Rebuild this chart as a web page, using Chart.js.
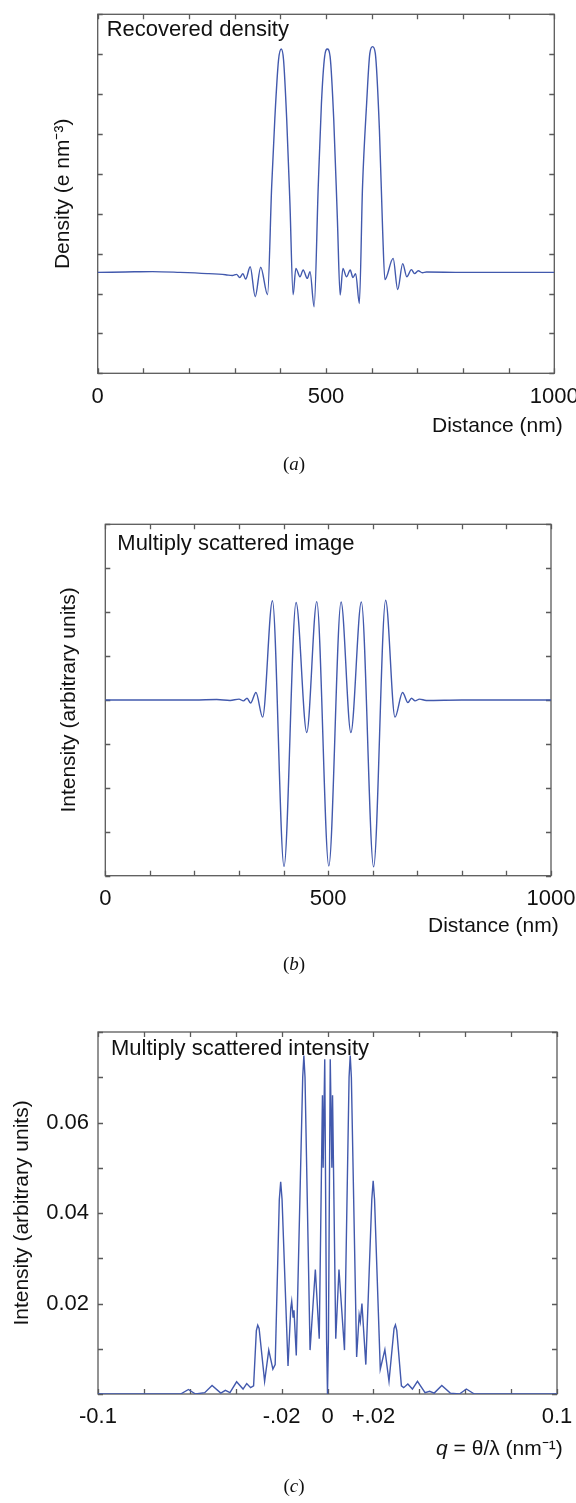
<!DOCTYPE html>
<html>
<head>
<meta charset="utf-8">
<script src="https://cdn.jsdelivr.net/npm/chart.js@4.4.1/dist/chart.umd.min.js"></script>
<style>
  html, body { margin: 0; padding: 0; background: #fff; }
  #page { position: relative; width: 576px; height: 1503px; overflow: hidden; }
  canvas { position: absolute; left: 0; }
</style>
</head>
<body>
<div id="page">
  <canvas id="density" width="576" height="490" style="top:0"></canvas>
  <canvas id="image" width="576" height="510" style="top:490px"></canvas>
  <canvas id="intensity" width="576" height="503" style="top:1000px"></canvas>
</div>
<script>
// (a) recovered density
const distanceA = [0, 60, 120, 180, 240, 280, 295, 304, 311, 318, 324, 334, 345, 357, 372,
  381, 388, 396, 402, 407, 414, 421, 428, 434, 443, 450, 459, 465, 474, 483, 490, 497, 503,
  509, 517, 525, 531, 537, 545, 553, 559, 565, 573, 580, 589, 596, 602, 608, 617, 624, 629,
  647, 657, 668, 677, 687, 694, 702, 711, 720, 800, 900, 1000];
const densityA = [2.53, 2.54, 2.55, 2.53, 2.5, 2.47, 2.45, 2.48, 2.4, 2.5, 2.36, 2.67, 1.92, 2.66, 1.97,
  4.68, 6.4, 7.85, 8.13, 7.86, 6.35, 4.26, 1.97, 2.63, 2.42, 2.59, 2.38, 2.55, 1.67, 4.68, 6.77, 7.94, 8.13,
  7.94, 6.35, 3.84, 1.96, 2.63, 2.42, 2.59, 2.4, 2.5, 1.75, 4.68, 6.77, 8.02, 8.19, 8.02, 6.1, 3.6, 2.35,
  2.88, 2.1, 2.75, 2.42, 2.6, 2.5, 2.57, 2.52, 2.54, 2.53, 2.53, 2.53];

// (b) multiply scattered image
const distanceB = [0, 100, 200, 250, 280, 300, 310, 318, 326, 338, 353, 375, 401, 428, 452, 474.5,
  501.5, 529, 551, 574.5, 602, 629, 650, 667, 679, 687, 695, 705, 720, 800, 900, 1000];
const imageB = [4.0, 4.0, 4.0, 4.01, 3.99, 4.02, 3.98, 4.04, 3.93, 4.17, 3.61, 6.26, 0.21, 6.22, 3.26, 6.24,
  0.22, 6.23, 3.26, 6.23, 0.2, 6.27, 3.61, 4.17, 3.94, 4.04, 3.98, 4.02, 3.99, 4.0, 4.0, 4.0];

// (c) multiply scattered intensity
const qC = [-0.1, -0.064, -0.0606, -0.0575, -0.0535, -0.0503, -0.0465, -0.0445, -0.0425, -0.0396,
  -0.0368, -0.0352, -0.0335, -0.0322, -0.031, -0.0304, -0.0298, -0.0274, -0.0256, -0.0238,
  -0.0228, -0.021, -0.0204, -0.0198, -0.0172, -0.016, -0.0156, -0.015, -0.0146, -0.0136,
  -0.0108, -0.0103, -0.0098, -0.0076, -0.0053, -0.0036, -0.0022, -0.0019, -0.0012, -0.0004, 0,
  0.0004, 0.0012, 0.0019, 0.0022, 0.0036, 0.005, 0.0074, 0.0094, 0.0099, 0.0104,
  0.0127, 0.0138, 0.0143, 0.015, 0.0167, 0.0193, 0.0199, 0.0205, 0.023, 0.025,
  0.0268, 0.029, 0.0296, 0.0302, 0.0322, 0.0332, 0.035, 0.037, 0.0392, 0.0425,
  0.0445, 0.0465, 0.0498, 0.0535, 0.0575, 0.0605, 0.064, 0.1];
const intensityC = [0, 0, 0.001, 0, 0.0003, 0.0019, 0.0002, 0.0008, 0.0003, 0.0027,
  0.0011, 0.0023, 0.0014, 0.0018, 0.014, 0.0152, 0.0145, 0.0028, 0.0097, 0.0055,
  0.0065, 0.043, 0.0469, 0.043, 0.0062, 0.019, 0.0205, 0.017, 0.0185, 0.0085,
  0.07, 0.0748, 0.07, 0.0097, 0.0275, 0.0122, 0.066, 0.05, 0.074, 0.012, 0,
  0.012, 0.074, 0.05, 0.066, 0.0122, 0.0275, 0.0097, 0.07, 0.0748, 0.07,
  0.0082, 0.0175, 0.016, 0.02, 0.0065, 0.043, 0.0471, 0.043, 0.0055, 0.0098,
  0.0028, 0.0145, 0.0153, 0.014, 0.0018, 0.0014, 0.0022, 0.0011, 0.0028, 0.0003,
  0.0006, 0.0002, 0.0019, 0.0002, 0, 0.0011, 0, 0];

// tick labels
const distanceTickLabels = [0, 500, 1000];
const qTickValues = [-0.1, -0.02, 0, 0.02, 0.1];
const qTickText = ['-0.1', '-.02', '0', '+.02', '0.1'];
const intensityTickValues = [0.02, 0.04, 0.06];

const FONT = '"Liberation Sans", Arial, Helvetica, sans-serif';
const SERIF = '"Liberation Serif", "Times New Roman", serif';
const LINE = '#4259ad';
const INK = '#111';

// frame with inward ticks on all four sides
const boxPlugin = {
  id: 'box',
  beforeDatasetsDraw(chart) {
    const { ctx, chartArea: a, scales: { x, y } } = chart;
    ctx.save();
    ctx.strokeStyle = '#5a5a5a';
    ctx.lineWidth = 1.3;
    ctx.beginPath();
    x.ticks.forEach(t => {
      const px = Math.round(x.getPixelForValue(t.value)) + 0.5;
      ctx.moveTo(px, a.bottom); ctx.lineTo(px, a.bottom - 5);
      ctx.moveTo(px, a.top); ctx.lineTo(px, a.top + 5);
    });
    y.ticks.forEach(t => {
      const py = Math.round(y.getPixelForValue(t.value)) + 0.5;
      ctx.moveTo(a.left, py); ctx.lineTo(a.left + 5, py);
      ctx.moveTo(a.right, py); ctx.lineTo(a.right - 5, py);
    });
    ctx.stroke();
    ctx.strokeRect(a.left, a.top, a.right - a.left, a.bottom - a.top);
    ctx.restore();
  }
};

// free text: each item is a list of [text, font] runs
function textPlugin(items) {
  return {
    id: 'texts',
    afterDraw(chart) {
      const ctx = chart.ctx;
      ctx.save();
      ctx.fillStyle = INK;
      ctx.textBaseline = 'alphabetic';
      ctx.textAlign = 'left';
      items.forEach(it => {
        let w = 0;
        it.runs.forEach(([t, f]) => { ctx.font = f; w += ctx.measureText(t).width; });
        let x = it.align === 'right' ? it.x - w : it.align === 'center' ? it.x - w / 2 : it.x;
        it.runs.forEach(([t, f]) => {
          ctx.font = f;
          ctx.fillText(t, x, it.y);
          x += ctx.measureText(t).width;
        });
      });
      ctx.restore();
    }
  };
}

function makePanel(id, box, xs, ys, x, y, texts, smooth) {
  const canvas = document.getElementById(id);
  const H = canvas.height;
  return new Chart(canvas, {
    type: 'line',
    data: {
      datasets: [{
        data: xs.map((v, i) => ({ x: v, y: ys[i] })),
        borderColor: LINE,
        borderWidth: 1.4,
        pointRadius: 0,
        fill: false,
        tension: smooth ? 0.4 : 0,
        cubicInterpolationMode: smooth ? 'monotone' : 'default',
      }]
    },
    options: {
      responsive: false,
      animation: false,
      devicePixelRatio: 1,
      layout: { padding: { left: 0, top: box.top, right: 576 - box.right, bottom: 0 } },
      plugins: { legend: { display: false }, tooltip: { enabled: false } },
      scales: {
        x: Object.assign({
          type: 'linear',
          grid: { display: false, drawTicks: false },
          border: { display: false },
          afterFit(s) { s.height = H - box.bottom; s.paddingLeft = 0; s.paddingRight = 0; },
        }, x),
        y: Object.assign({
          type: 'linear',
          grid: { display: false, drawTicks: false },
          border: { display: false },
          afterFit(s) { s.width = box.left; s.paddingTop = 0; s.paddingBottom = 0; },
        }, y),
      }
    },
    plugins: [boxPlugin, textPlugin(texts)]
  });
}

const tickFont = { family: FONT, size: 22 };
const titleFont = { family: FONT, size: 21 };
const distanceTicks = {
  stepSize: 100, autoSkip: false, maxRotation: 0, padding: 10, color: INK, font: tickFont,
  callback: v => distanceTickLabels.includes(v) ? String(v) : '',
};
const noLabels = { stepSize: 1, callback: () => '' };

makePanel('density', { left: 97.7, right: 554.3, top: 14.3, bottom: 373.3 }, distanceA, densityA,
  { min: 0, max: 1000, ticks: distanceTicks },
  { min: 0, max: 9, ticks: noLabels,
    title: { display: true, text: 'Density (e nm⁻³)', color: INK, font: titleFont, padding: { top: 51, bottom: 0 } } },
  [
    { x: 106.7, y: 36, runs: [['Recovered density', '22px ' + FONT]] },
    { x: 562.7, y: 431.7, align: 'right', runs: [['Distance (nm)', '21px ' + FONT]] },
    { x: 294, y: 470, align: 'center', runs: [['(', '19px ' + SERIF], ['a', 'italic 19px ' + SERIF], [')', '19px ' + SERIF]] },
  ], true);

makePanel('image', { left: 105.3, right: 551, top: 34.3, bottom: 385.7 }, distanceB, imageB,
  { min: 0, max: 1000, ticks: distanceTicks },
  { min: 0, max: 8, ticks: noLabels,
    title: { display: true, text: 'Intensity (arbitrary units)', color: INK, font: titleFont, padding: { top: 57, bottom: 0 } } },
  [
    { x: 117.3, y: 60, runs: [['Multiply scattered image', '22px ' + FONT]] },
    { x: 558.7, y: 441.7, align: 'right', runs: [['Distance (nm)', '21px ' + FONT]] },
    { x: 294, y: 480, align: 'center', runs: [['(', '19px ' + SERIF], ['b', 'italic 19px ' + SERIF], [')', '19px ' + SERIF]] },
  ], true);

makePanel('intensity', { left: 98, right: 557, top: 32, bottom: 394 }, qC, intensityC,
  { min: -0.1, max: 0.1,
    ticks: { stepSize: 0.02, autoSkip: false, maxRotation: 0, padding: 10, color: INK, font: tickFont,
      callback: v => { const i = qTickValues.findIndex(q => Math.abs(q - v) < 1e-9); return i < 0 ? '' : qTickText[i]; } } },
  { min: 0, max: 0.08,
    ticks: { stepSize: 0.01, padding: 9, color: INK, font: tickFont,
      callback: v => { const r = Math.round(v * 100) / 100; return intensityTickValues.includes(r) ? r.toFixed(2) : ''; } },
    title: { display: true, text: 'Intensity (arbitrary units)', color: INK, font: titleFont, padding: { top: 10, bottom: 0 } } },
  [
    { x: 111, y: 55, runs: [['Multiply scattered intensity', '22px ' + FONT]] },
    { x: 562.7, y: 454.7, align: 'right', runs: [['q', 'italic 21px ' + FONT], [' = θ/λ (nm⁻¹)', '21px ' + FONT]] },
    { x: 294, y: 492, align: 'center', runs: [['(', '19px ' + SERIF], ['c', 'italic 19px ' + SERIF], [')', '19px ' + SERIF]] },
  ], false);
</script>
</body>
</html>
